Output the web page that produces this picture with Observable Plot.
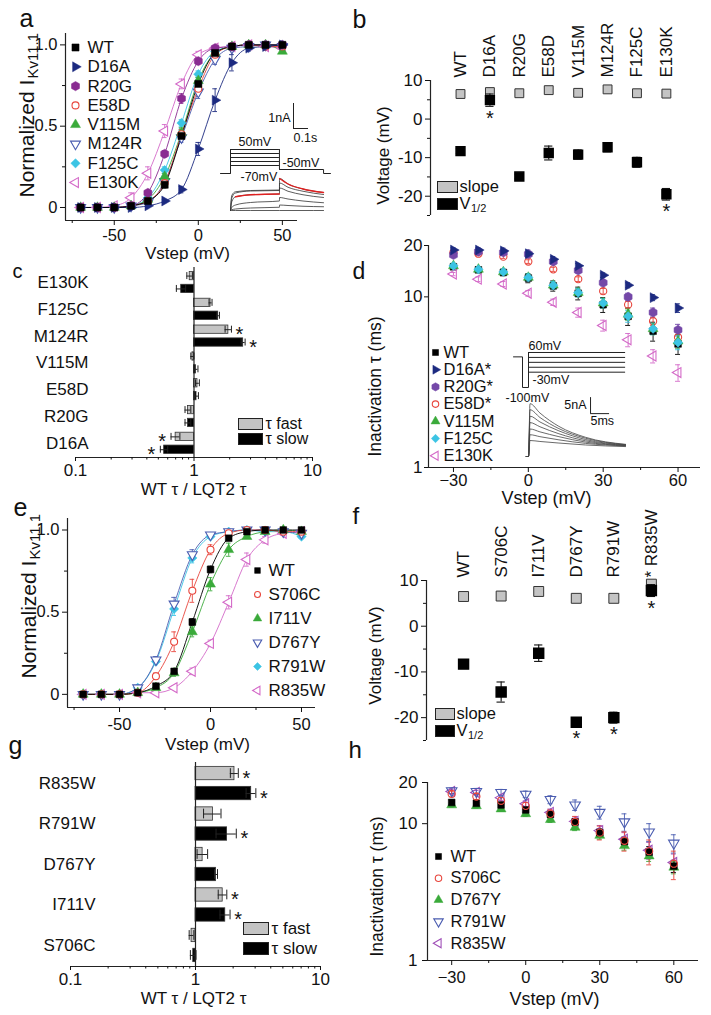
<!DOCTYPE html>
<html><head><meta charset="utf-8">
<script src="https://cdn.jsdelivr.net/npm/d3@7"></script>
<script src="https://cdn.jsdelivr.net/npm/@observablehq/plot@0.6"></script>
<style>
html,body{margin:0;padding:0;background:#fff}
#root{position:relative;width:711px;height:1015px;overflow:hidden;background:#fff}
</style></head><body><div id="root"></div>
<script>
// ================= DATA =================
// (a) activation curves
const vAct = [-70,-60,-50,-40,-30,-20,-10,0,10,20,30,40,50];
const aNames = ["WT","D16A","R20G","E58D","V115M","M124R","F125C","E130K"];
const actWT    = [0,0,0,0.01,0.04,0.14,0.44,0.76,0.95,0.99,1.00,1.00,1.00];
const actD16A  = [0,0,0,0,0.01,0.04,0.11,0.36,0.66,0.89,0.98,0.99,1.00];
const actR20G  = [0,0,0,0.01,0.09,0.33,0.67,0.90,0.98,0.99,1.00,1.00,1.00];
const actE58D  = [0,0,0,0.01,0.04,0.15,0.45,0.73,0.94,0.99,1.00,0.99,0.99];
const actV115M = [0,0,0,0.01,0.05,0.19,0.46,0.78,0.95,0.99,1.00,1.00,0.96];
const actM124R = [0,0,0,0.01,0.03,0.16,0.43,0.71,0.91,0.98,0.99,1.00,0.99];
const actF125C = [0,0,0,0.01,0.06,0.23,0.52,0.82,0.96,0.99,1.00,1.00,1.00];
const actE130K = [0,0,0.01,0.06,0.21,0.47,0.76,0.94,0.98,0.99,1.00,0.99,0.98];
const errWT    = [0,0,0,0,0.01,0.02,0.02,0.02,0.01,0.01,0,0,0];
const errD16A  = [0,0,0,0,0,0.01,0.02,0.04,0.07,0.05,0.02,0.01,0.01];
const errR20G  = [0,0,0,0,0.01,0.02,0.03,0.02,0.01,0.01,0,0,0];
const errE58D  = [0,0,0,0,0.01,0.02,0.03,0.03,0.02,0.01,0,0.01,0.01];
const errV115M = [0,0,0,0,0.01,0.02,0.03,0.02,0.01,0,0,0,0.01];
const errM124R = [0,0,0,0,0.01,0.02,0.03,0.04,0.03,0.01,0.01,0,0.01];
const errF125C = [0,0,0,0,0.01,0.02,0.02,0.02,0.01,0,0,0,0];
const errE130K = [0,0,0,0.03,0.04,0.04,0.03,0.02,0.01,0.01,0,0.01,0.01];
// (a) inset: protocol (s, mV) and current traces (s, nA)
const protoA_t = [0, 0.0667, 0.393, 0.687, 0.733];
const protoA_hold = -70, protoA_tail = -50;
const protoA_steps = [50, 30, 10, -10, -30];
const trA_t = [0.0667, 0.075, 0.1, 0.2, 0.393, 0.3935, 0.45, 0.55, 0.687];
const trA1 = [0, 0.60, 0.75, 0.80, 0.82, 1.28, 1.06, 0.86, 0.72];
const trA2 = [0, 0.50, 0.70, 0.78, 0.80, 1.10, 0.93, 0.77, 0.64];
const trA3 = [0, 0.35, 0.55, 0.63, 0.66, 0.90, 0.77, 0.63, 0.52];
const trA4 = [0, 0.12, 0.22, 0.32, 0.38, 0.52, 0.46, 0.38, 0.31];
const trA5 = [0, 0.03, 0.06, 0.10, 0.13, 0.22, 0.20, 0.17, 0.15];
const trA6 = [0, 0, 0, 0, 0, 0, 0, 0, 0];

// (b) Boltzmann parameters
const bNames = ["WT","D16A","R20G","E58D","V115M","M124R","F125C","E130K"];
const bSlope = [6.5, 7.0, 6.7, 7.5, 6.8, 7.7, 6.7, 6.6];
const bHalf = [-8.3, 4.9, -14.9, -8.8, -9.2, -7.3, -11.2, -19.5];
const bHalfErr = [0.6, 1.6, 0.6, 1.8, 1.2, 1.2, 1.3, 1.5];
const bSig = ["D16A","E130K"];

// (c) tau ratios
const cNames = ["E130K","F125C","M124R","V115M","E58D","R20G","D16A"];
const cFast = [0.92, 1.38, 1.95, 0.97, 1.07, 0.89, 0.70];
const cFastErr = [0.05, 0.04, 0.12, 0.03, 0.04, 0.05, 0.06];
const cSlow = [0.78, 1.60, 2.60, 1.04, 1.05, 0.89, 0.56];
const cSlowErr = [0.07, 0.04, 0.10, 0.04, 0.04, 0.05, 0.04];
const cSigFast = ["M124R","D16A"];
const cSigSlow = ["M124R","D16A"];

// (d) inactivation tau (ms)
const vIn = [-30,-20,-10,0,10,20,30,40,50,60];
const dNames = ["WT","D16A","R20G","E58D","V115M","F125C","E130K"];
const dSig = ["D16A","R20G","E58D"];
const inWT    = [15.0,14.4,13.9,12.9,11.6,10.5,9.0,7.7,6.3,5.3];
const inD16A  = [18.8,18.8,18.6,17.9,16.6,15.2,13.4,11.7,9.9,8.6];
const inR20G  = [17.6,18.4,18.2,17.8,16.1,14.3,12.1,10.0,8.1,6.4];
const inE58D  = [18.2,17.9,17.2,16.1,14.5,12.7,10.8,9.0,7.2,5.8];
const inV115M = [15.2,14.5,14.0,13.0,11.7,10.6,9.2,7.9,6.5,5.5];
const inF125C = [15.2,14.5,14.0,13.0,11.7,10.6,9.2,7.7,6.5,5.4];
const inE130K = [13.6,12.7,11.9,10.5,9.3,8.1,6.8,5.6,4.5,3.6];
const eInWT    = [0.5,0.5,0.6,0.8,0.8,0.9,0.9,0.9,0.8,0.7];
const eInD16A  = [0.6,0.6,0.7,0.9,0.6,0.5,0.4,0.4,0.4,0.5];
const eInR20G  = [0.5,0.5,0.5,0.5,0.5,0.5,0.5,0.5,0.5,0.5];
const eInE58D  = [0.4,0.4,0.4,0.4,0.4,0.4,0.4,0.4,0.4,0.4];
const eInV115M = [0.5,0.5,0.5,0.6,0.6,0.6,0.6,0.6,0.5,0.5];
const eInF125C = [0.5,0.5,0.5,0.6,0.6,0.6,0.6,0.6,0.5,0.5];
const eInE130K = [0.3,0.4,0.4,0.4,0.4,0.5,0.5,0.5,0.4,0.4];
// (d) inset: protocol (ms, mV) and traces (ms, nA)
const protoD_t = [0, 2.37, 3.95, 29.5];
const protoD_hold = 40, protoD_rec = -100;
const protoD_steps = [60, 37.5, 15, -7.5, -30];
const trD_t = [-0.6, 0, 0.4, 3, 8, 15, 25.5];
const trD1 = [0, 0, 16.5, 13.6, 9.4, 6.0, 3.8];
const trD2 = [0, 0, 14.6, 12.2, 8.7, 5.7, 3.7];
const trD3 = [0, 0, 12.6, 10.8, 8.0, 5.3, 3.6];
const trD4 = [0, 0, 10.6, 9.3, 7.1, 4.9, 3.5];
const trD5 = [0, 0, 8.6, 7.7, 6.2, 4.5, 3.4];
const trD6 = [0, 0, 6.8, 6.2, 5.2, 4.1, 3.3];
const trD7 = [0, 0, 5.0, 4.7, 4.2, 3.6, 3.1];

// (e) activation, second group
const eNames = ["WT","S706C","I711V","D767Y","R791W","R835W"];
const eWT    = [0,0,0,0.01,0.05,0.14,0.44,0.76,0.95,0.99,1.00,1.00,1.00];
const eS706C = [0,0,0,0.01,0.11,0.32,0.63,0.88,0.98,1.00,1.00,0.99,0.99];
const eI711V = [0,0,0,0.01,0.04,0.13,0.38,0.67,0.88,0.96,0.99,1.00,0.99];
const eD767Y = [0,0,0,0.04,0.21,0.55,0.85,0.97,0.99,1.00,1.00,0.99,0.98];
const eR791W = [0,0,0,0.04,0.20,0.52,0.83,0.96,0.99,1.00,0.99,0.99,0.96];
const eR835W = [0,0,0,0.01,0.01,0.04,0.14,0.31,0.56,0.82,0.94,0.98,0.99];
const eeWT    = [0,0,0,0,0.01,0.01,0.02,0.02,0.01,0,0,0,0];
const eeS706C = [0,0,0,0,0.02,0.06,0.07,0.03,0.01,0,0,0,0];
const eeI711V = [0,0,0,0,0.01,0.02,0.03,0.04,0.04,0.01,0,0,0];
const eeD767Y = [0,0,0,0.01,0.02,0.04,0.03,0.01,0,0,0,0,0];
const eeR791W = [0,0,0,0.01,0.02,0.04,0.03,0.01,0,0,0,0,0.01];
const eeR835W = [0,0,0,0,0,0.01,0.02,0.02,0.04,0.04,0.02,0.01,0.01];

// (f) Boltzmann parameters, second group
const fNames = ["WT","S706C","I711V","D767Y","R791W","R835W"];
const fSlope = [6.5, 6.6, 7.6, 6.1, 6.1, 9.2];
const fHalf = [-8.3, -14.4, -5.9, -21.0, -20.0, 7.8];
const fHalfErr = [0.6, 2.2, 1.8, 1.0, 1.2, 1.3];
const fSigHalf = ["D767Y","R791W","R835W"];
const fSigSlope = ["R835W"];

// (g) tau ratios, second group
const gNames = ["R835W","R791W","D767Y","I711V","S706C"];
const gFast = [2.05, 1.38, 1.14, 1.65, 0.93];
const gFastErr = [0.15, 0.22, 0.11, 0.13, 0.04];
const gSlow = [2.79, 1.79, 1.46, 1.73, 0.96];
const gSlowErr = [0.25, 0.33, 0.04, 0.16, 0.05];
const gSigFast = ["R835W","I711V"];
const gSigSlow = ["R835W","R791W","I711V"];

// (h) inactivation tau, second group
const hNames = ["WT","S706C","D767Y","R791W","R835W"];
const hWT    = [14.3,14.1,13.7,12.6,11.7,10.3,8.6,7.4,6.2,4.9];
const hS706C = [16.5,15.8,14.7,13.5,11.8,10.3,8.6,7.5,6.3,5.1];
const hD767Y = [13.7,13.5,12.8,11.8,10.7,9.4,8.2,6.9,5.8,4.8];
const hR791W = [17.4,17.2,16.9,16.4,15.0,13.7,12.1,10.3,8.7,7.2];
const hR835W = [17.2,16.9,15.5,14.0,12.1,10.4,8.9,7.7,6.4,5.2];
const ehWT    = [0.6,0.6,0.6,0.6,0.6,0.6,0.6,0.6,0.6,0.5];
const ehS706C = [0.8,0.8,0.8,0.8,0.9,1.0,1.0,1.2,1.3,1.2];
const ehD767Y = [0.5,0.5,0.5,0.5,0.5,0.5,0.5,0.5,0.5,0.5];
const ehR791W = [0.8,0.9,0.9,0.9,1.0,1.2,1.3,1.5,1.3,1.1];
const ehR835W = [0.6,0.6,0.7,0.7,0.7,0.8,0.8,0.9,0.9,0.8];

// ================= HELPERS =================
const F = '"Liberation Sans", Arial, Helvetica, sans-serif';
const INK = "#111";
const root = document.getElementById("root");
function mk(box, scales, marks) {
  const svg = Plot.plot({
    width: box.w, height: box.h,
    marginLeft: box.ml || 0, marginRight: box.mr || 0, marginTop: box.mt || 0, marginBottom: box.mb || 0,
    style: {background: "transparent", overflow: "visible", fontFamily: F, fontSize: "16px", color: INK},
    ...scales, marks
  });
  Object.assign(svg.style, {position: "absolute", left: box.x + "px", top: box.y + "px"});
  root.appendChild(svg);
}
function at(box, px, py) { return {frameAnchor: "top-left", dx: px - box.x - (box.ml || 0), dy: py - box.y - (box.mt || 0)}; }
function txt(box, s, px, py, o = {}) {
  return Plot.text([s], {...at(box, px, py), text: d => d, textAnchor: "start", lineAnchor: "middle", fontSize: 17, fill: INK, ...o});
}
function sw(box, x0, y0, x1, y1, fill) {
  const L = box.x + (box.ml || 0), R = box.x + box.w - (box.mr || 0), T = box.y + (box.mt || 0), B = box.y + box.h - (box.mb || 0);
  return Plot.frame({fill, stroke: "#222", strokeWidth: 1, insetLeft: x0 - L, insetRight: R - x1, insetTop: y0 - T, insetBottom: B - y1});
}
function sym(s, openFill = "#fff", scale = 1) {
  const o = {symbol: s.symbol, r: s.r * scale, fill: s.open ? openFill : s.color, stroke: s.color, strokeWidth: s.open ? 1.1 : 0.5};
  if (s.rot) o.rotate = s.rot;
  return o;
}
function errV(r0, color, cap) {
  const r = r0.filter(d => d.e > 0);
  const o = {stroke: color, strokeWidth: 0.9};
  return [
    Plot.ruleX(r, {x: "v", y1: d => d.y - d.e, y2: d => d.y + d.e, ...o}),
    Plot.ruleY(r, {y: d => d.y + d.e, x1: d => d.v - cap, x2: d => d.v + cap, ...o}),
    Plot.ruleY(r, {y: d => d.y - d.e, x1: d => d.v - cap, x2: d => d.v + cap, ...o})
  ];
}
const rows = (xs, ys, es) => xs.map((v, i) => ({v, y: ys[i], e: es ? es[i] : 0}));
const hy = d => String(d);
const mn = d => String(d).replace("-", "\u2212");
const blank = () => "";
const AX = {stroke: "#222", strokeWidth: 1.2};

// ================= PANEL a =================
const aTable = {WT: [actWT, errWT], D16A: [actD16A, errD16A], R20G: [actR20G, errR20G], E58D: [actE58D, errE58D],
  V115M: [actV115M, errV115M], M124R: [actM124R, errM124R], F125C: [actF125C, errF125C], E130K: [actE130K, errE130K]};
const aSty = {
  WT: {color: "#000000", symbol: "square", r: 4},
  D16A: {color: "#1c2a80", symbol: "triangle", r: 3.7, rot: 90},
  R20G: {color: "#8a2c92", symbol: "hexagon", r: 4},
  E58D: {color: "#e8453c", symbol: "circle", r: 3.5, open: true},
  V115M: {color: "#3aaa3a", symbol: "triangle", r: 3.7},
  M124R: {color: "#4a5cb0", symbol: "triangle", r: 3.7, rot: 180, open: true},
  F125C: {color: "#3cc4e4", symbol: "diamond2", r: 4.2},
  E130K: {color: "#d46ac8", symbol: "triangle", r: 3.7, rot: 270, open: true}
};
function activationPanel(box, names, table, sty, xdom, o) {
  const order = [...names].reverse();
  const marks = [
    Plot.ruleX([xdom[0]], AX),
    Plot.ruleY([-0.08], AX),
    Plot.axisY({ticks: [0, 0.5, 1], tickFormat: d => d === 0 ? "0" : d.toFixed(1), tickSize: 5, tickPadding: 3, fontSize: 16.5, label: null}),
    Plot.axisY({ticks: [0.25, 0.75], tickSize: 3, tickFormat: blank, label: null}),
    Plot.axisX({ticks: [-50, 0, 50], tickFormat: hy, tickSize: 5, tickPadding: o.xpad, fontSize: 16.5, label: null}),
    Plot.axisX({ticks: [-75, -25, 25], tickSize: 3, tickFormat: blank, label: null})
  ];
  for (const n of order) marks.push(Plot.line(rows(vAct, table[n][0]), {x: "v", y: "y", curve: "monotone-x", stroke: sty[n].color, strokeWidth: 0.9}));
  for (const n of order) marks.push(...errV(rows(vAct, table[n][0], table[n][1]), sty[n].color, o.cap));
  for (const n of order) marks.push(Plot.dot(rows(vAct, table[n][0]), {x: "v", y: "y", ...sym(sty[n])}));
  names.forEach((n, i) => {
    const py = o.legY + o.legDy * i;
    marks.push(Plot.dot([n], {...at(box, o.legMx, py), ...sym(sty[n], "#fff", o.legScale)}));
    marks.push(txt(box, n, o.legTx, py));
  });
  marks.push(txt(box, "Normalized I", o.ylx, o.yly, {rotate: -90, lineAnchor: "bottom", fontSize: 21}));
  marks.push(txt(box, "Kv11.1", o.ylx + 4, o.yly - 119, {rotate: -90, lineAnchor: "bottom", fontSize: 15}));
  marks.push(txt(box, "Vstep (mV)", o.xlx, o.xly, {textAnchor: "middle", lineAnchor: "bottom"}));
  marks.push(txt(box, o.letter[0], o.letter[1], o.letter[2], {lineAnchor: "bottom", fontSize: o.letter[3]}));
  mk(box, {x: {domain: xdom}, y: {domain: [-0.08, 1.07]}}, marks);
}
activationPanel({x: 0, y: 0, w: 355, h: 255, ml: 65, mr: 58, mt: 33, mb: 35}, aNames, aTable, aSty, [-79, 59],
  {xpad: 4, cap: 1.4, legY: 47, legDy: 19.3, legMx: 75, legTx: 87, legScale: 1, ylx: 33, yly: 197, xlx: 187, xly: 258, letter: ["a", 19, 26, 25]});

// inset a: protocol
{
  const box = {x: 220, y: 140, w: 110, h: 40};
  const [t0, t1, t2, t3, t4] = protoA_t;
  const top = d3.max(protoA_steps);
  const L = {stroke: "#222", strokeWidth: 1};
  const marks = [
    Plot.line([[t0, protoA_hold], [t1, protoA_hold]], {x: d => d[0], y: d => d[1], ...L}),
    Plot.ruleX([t1], {y1: protoA_hold, y2: top, ...L}),
    Plot.ruleY(protoA_steps, {y: d => d, x1: t1, x2: t2, ...L}),
    Plot.ruleX([t2], {y1: protoA_tail, y2: top, ...L}),
    Plot.line([[t2, protoA_tail], [t3, protoA_tail], [t3, protoA_hold], [t4, protoA_hold]], {x: d => d[0], y: d => d[1], ...L}),
    txt(box, "50mV", 238, 145, {lineAnchor: "bottom", fontSize: 12.5}),
    txt(box, "-50mV", 282, 166, {lineAnchor: "bottom", fontSize: 12.5}),
    txt(box, "-70mV", 240, 180, {lineAnchor: "bottom", fontSize: 12.5})
  ];
  mk(box, {x: {domain: [0, 0.7333], axis: null}, y: {domain: [-105, 95], axis: null}}, marks);
}
// inset a: traces
{
  const box = {x: 220, y: 100, w: 110, h: 115};
  const T = {x: "v", y: "y", curve: "monotone-x", stroke: "#333", strokeWidth: 0.8};
  const marks = [trA6, trA5, trA4, trA3, trA2, trA1].map(tr => Plot.line(rows(trA_t, tr), T));
  marks.push(Plot.line(rows(trA_t.slice(2, 5), trA3.slice(2, 5)), {...T, stroke: "#e02020", strokeWidth: 1.3}));
  marks.push(Plot.line(rows(trA_t.slice(5), trA1.slice(5)), {...T, stroke: "#e02020", strokeWidth: 1.3}));
  const sbT = 0.4867, sbI = 3.28;
  marks.push(Plot.ruleX([sbT], {y1: sbI, y2: sbI + 1, stroke: "#222"}));
  marks.push(Plot.ruleY([sbI], {x1: sbT, x2: sbT + 0.1, stroke: "#222"}));
  marks.push(txt(box, "1nA", 290, 117, {textAnchor: "end", fontSize: 12.5}));
  marks.push(txt(box, "0.1s", 293, 137, {fontSize: 12.5}));
  mk(box, {x: {domain: [0, 0.7333], axis: null}, y: {domain: [-0.2, 4.4], axis: null}}, marks);
}

// ================= PANELS b & f =================
function paramPanel(box, names, slope, half, halfErr, sigHalf, labels, xdom, o) {
  const H = names.map((n, i) => ({n, i, y: half[i], e: halfErr[i]}));
  const cap = o.cap;
  const eb = {stroke: "#111", strokeWidth: 1.1};
  const marks = [
    Plot.ruleX([xdom[0]], AX),
    Plot.axisY({ticks: [10, 0, -10, -20], tickFormat: hy, tickSize: 5, tickPadding: 3, fontSize: 17, label: null}),
    Plot.axisY({ticks: [5, -5, -15, -25], tickSize: 3, tickFormat: blank, label: null}),
    Plot.text(labels, {x: (d, i) => i, frameAnchor: "top", rotate: -90, textAnchor: "start", lineAnchor: "middle", dy: -3, fontSize: 17, fill: INK}),
    Plot.dot(slope, {x: (d, i) => i, y: d => d, symbol: "square", r: o.r, fill: "#c4c4c4", stroke: "#333", strokeWidth: 1}),
    Plot.ruleX(H, {x: "i", y1: d => d.y - d.e, y2: d => d.y + d.e, ...eb}),
    Plot.ruleY(H, {y: d => d.y + d.e, x1: d => d.i - cap, x2: d => d.i + cap, ...eb}),
    Plot.ruleY(H, {y: d => d.y - d.e, x1: d => d.i - cap, x2: d => d.i + cap, ...eb}),
    Plot.dot(H, {x: "i", y: "y", symbol: "square", r: o.r, fill: "#000", stroke: "#000"}),
    Plot.text(H.filter(d => sigHalf.includes(d.n)), {x: "i", y: d => d.y - d.e, text: () => "*", lineAnchor: "top", dy: 4, fontSize: 20, fill: INK}),
    sw(box, o.sx, o.sy, o.sx + o.sw, o.sy + 11, "#c4c4c4"),
    txt(box, "slope", o.sx + o.sw + 2, o.sy + 5.5, {fontSize: 16.5}),
    sw(box, o.sx, o.sy + o.sdy, o.sx + o.sw, o.sy + o.sdy + 11, "#000"),
    txt(box, "V", o.sx + o.sw + 2, o.sy + o.sdy + 5, {fontSize: 16.5}),
    txt(box, "1/2", o.sx + o.sw + 13.5, o.sy + o.sdy + 10, {fontSize: 11}),
    txt(box, "Voltage (mV)", o.ylx, o.yly, {rotate: -90, textAnchor: "middle"}),
    txt(box, o.letter[0], o.letter[1], o.letter[2], {lineAnchor: "bottom", fontSize: o.letter[3]})
  ];
  mk(box, {x: {domain: xdom, axis: null}, y: {domain: [-25, 10]}}, marks);
}
paramPanel({x: 355, y: 0, w: 356, h: 235, ml: 75, mr: 11, mt: 80, mb: 20}, bNames, bSlope, bHalf, bHalfErr, bSig, bNames, [-1.02, 8.16],
  {cap: 0.14, r: 5, sx: 437, sy: 181, sw: 20, sdy: 17, ylx: 383, yly: 155, letter: ["b", 352, 27, 25]});
paramPanel({x: 355, y: 495, w: 356, h: 255, ml: 71, mr: 11, mt: 85, mb: 10}, fNames, fSlope, fHalf, fHalfErr, fSigHalf,
  fNames.map(n => fSigSlope.includes(n) ? "* " + n : n), [-0.987, 6.307],
  {cap: 0.11, r: 5.6, sx: 435, sy: 708, sw: 19, sdy: 17, ylx: 375, yly: 655, letter: ["f", 352, 523, 24]});

// ================= PANELS c & g =================
function ratioPanel(box, names, fast, fastE, slow, slowE, sigF, sigS, ydom, o) {
  const R = names.map((n, i) => ({n, i, f: fast[i], fe: fastE[i], s: slow[i], se: slowE[i]}));
  const {off, hh, cap} = o;
  const bar = (k, dy, fill) => Plot.rect(R, {x1: () => 1, x2: d => d[k], y1: d => d.i + dy - hh, y2: d => d.i + dy + hh, fill, stroke: "#333", strokeWidth: 0.8});
  const es = {stroke: "#222", strokeWidth: 1};
  const err = (k, ek, dy) => [
    Plot.ruleY(R, {y: d => d.i + dy, x1: d => d[k] - d[ek], x2: d => d[k] + d[ek], ...es}),
    Plot.ruleX(R, {x: d => d[k] - d[ek], y1: d => d.i + dy - cap, y2: d => d.i + dy + cap, ...es}),
    Plot.ruleX(R, {x: d => d[k] + d[ek], y1: d => d.i + dy - cap, y2: d => d.i + dy + cap, ...es})
  ];
  const star = (k, ek, dy, sig) => {
    const S = R.filter(d => sig.includes(d.n));
    const st = {text: () => "*", dy: 5, fontSize: 20, fill: INK, textAnchor: "middle"};
    return [
      Plot.text(S.filter(d => d[k] >= 1), {x: d => d[k] + d[ek], y: d => d.i + dy, dx: 8, ...st}),
      Plot.text(S.filter(d => d[k] < 1), {x: d => d[k] - d[ek], y: d => d.i + dy, dx: -9, ...st})
    ];
  };
  const marks = [
    Plot.ruleY([ydom[0]], AX),
    Plot.axisX({ticks: [0.1, 1, 10], tickFormat: d => d < 1 ? "0.1" : String(d), tickSize: 4, tickPadding: o.xpad, fontSize: 17, label: null}),
    Plot.axisX({ticks: [0.2,0.3,0.4,0.5,0.6,0.7,0.8,0.9,2,3,4,5,6,7,8,9], tickSize: 2.5, tickFormat: blank, label: null}),
    bar("f", -off, "#c4c4c4"), bar("s", off, "#000"),
    ...err("f", "fe", -off), ...err("s", "se", off),
    Plot.ruleX([1], AX),
    ...star("f", "fe", -off, sigF), ...star("s", "se", off, sigS),
    Plot.text(names, {y: (d, i) => i, frameAnchor: "left", textAnchor: "end", lineAnchor: "middle", dx: o.labDx, fontSize: 17, fill: INK}),
    sw(box, o.lx, o.ly, o.lx + o.lw, o.ly + o.lh, "#c4c4c4"),
    txt(box, "τ fast", o.lx + o.lw + 3, o.ly + o.lh / 2, {fontSize: o.lfs}),
    sw(box, o.lx, o.ly + o.ldy, o.lx + o.lw, o.ly + o.ldy + o.lh, "#000"),
    txt(box, "τ slow", o.lx + o.lw + 3, o.ly + o.ldy + o.lh / 2, {fontSize: o.lfs}),
    txt(box, "WT τ / LQT2 τ", 193, o.xly, {textAnchor: "middle", lineAnchor: "bottom"}),
    txt(box, o.letter[0], o.letter[1], o.letter[2], {lineAnchor: "bottom", fontSize: o.letter[3]})
  ];
  mk(box, {x: {type: "log", domain: [0.1, 10]}, y: {domain: ydom, axis: null}}, marks);
}
ratioPanel({x: 0, y: 255, w: 355, h: 245, ml: 75, mr: 43, mt: 12, mb: 43}, cNames, cFast, cFastErr, cSlow, cSlowErr, cSigFast, cSigSlow, [6.53, -0.56],
  {off: 0.24, hh: 0.155, cap: 0.13, xpad: 2, labDx: 13, lx: 238, ly: 418, lw: 24, lh: 11, ldy: 15, lfs: 16, xly: 494, letter: ["c", 12, 277, 20]});
ratioPanel({x: 0, y: 750, w: 355, h: 265, ml: 70, mr: 35, mt: 12, mb: 49}, gNames, gFast, gFastErr, gSlow, gSlowErr, gSigFast, gSigSlow, [4.52, -0.52],
  {off: 0.247, hh: 0.165, cap: 0.12, xpad: 2, labDx: 25, lx: 243, ly: 922, lw: 25, lh: 12, ldy: 20, lfs: 17, xly: 1003, letter: ["g", 8, 753, 25]});

// ================= PANELS d & h =================
function inactPanel(box, xdom, names, table, sty, drawOrder, legendLabels, o) {
  const marks = [
    Plot.ruleX([xdom[0]], AX),
    Plot.ruleY([1], AX),
    Plot.axisY({ticks: [1, 10, 20], tickFormat: d => String(d), tickSize: o.ytick, tickPadding: o.ypad, fontSize: 17, label: null}),
    Plot.axisX({ticks: [-30, 0, 30, 60], tickFormat: mn, tickSize: 5, tickPadding: o.xpad, fontSize: 16.5, label: null}),
    Plot.axisX({ticks: [-15, 15, 45], tickSize: 3, tickFormat: blank, label: null})
  ];
  for (const n of drawOrder) marks.push(...errV(rows(vIn, table[n][0], table[n][1]), sty[n].color, 1.0));
  for (const n of drawOrder) marks.push(Plot.dot(rows(vIn, table[n][0]), {x: "v", y: "y", ...sym(sty[n], "none")}));
  names.forEach((n, i) => {
    const py = o.legY + o.legDy * i;
    marks.push(Plot.dot([n], {...at(box, o.legMx, py), ...sym(sty[n], "none", 0.9)}));
    marks.push(txt(box, legendLabels[i], o.legTx, py, {fontSize: 16.5}));
  });
  marks.push(txt(box, "Inactivation τ (ms)", o.ylx, o.yly, {rotate: -90, textAnchor: "middle", fontSize: 17.5}));
  marks.push(txt(box, "Vstep (mV)", o.xlx, o.xly, {textAnchor: "middle", lineAnchor: "bottom", fontSize: 18}));
  marks.push(txt(box, o.letter[0], o.letter[1], o.letter[2], {lineAnchor: "bottom", fontSize: o.letter[3]}));
  mk(box, {x: {domain: xdom}, y: {type: "log", domain: [1, 20]}}, marks);
}
const dTable = {WT: [inWT, eInWT], D16A: [inD16A, eInD16A], R20G: [inR20G, eInR20G], E58D: [inE58D, eInE58D],
  V115M: [inV115M, eInV115M], F125C: [inF125C, eInF125C], E130K: [inE130K, eInE130K]};
const dSty = {
  WT: {color: "#000000", symbol: "square", r: 3.8},
  D16A: {color: "#1c2a80", symbol: "triangle", r: 3.7, rot: 90},
  R20G: {color: "#7448a8", symbol: "hexagon", r: 4},
  E58D: {color: "#e8453c", symbol: "circle", r: 3.6, open: true},
  V115M: {color: "#3aaa3a", symbol: "triangle", r: 3.7},
  F125C: {color: "#3cc4e4", symbol: "diamond2", r: 4.2},
  E130K: {color: "#d46ac8", symbol: "triangle", r: 3.7, rot: 270, open: true}
};
inactPanel({x: 355, y: 235, w: 356, h: 275, ml: 73, mr: 11, mt: 10, mb: 43}, [-40, 69], dNames, dTable, dSty,
  ["WT", "E130K", "E58D", "R20G", "D16A", "V115M", "F125C"], dNames.map(n => dSig.includes(n) ? n + "*" : n),
  {ytick: 4, ypad: 2, xpad: 2, legY: 352, legDy: 17.2, legMx: 435, legTx: 443, ylx: 375, yly: 386, xlx: 546, xly: 503, letter: ["d", 352, 278, 23]});

// inset d: protocol
{
  const box = {x: 510, y: 345, w: 120, h: 47};
  const [t0, t1, t2, t3] = protoD_t;
  const L = {stroke: "#222", strokeWidth: 1};
  const marks = [
    Plot.line([[t0, protoD_hold], [t1, protoD_hold], [t1, protoD_rec], [t2, protoD_rec], [t2, d3.max(protoD_steps)]], {x: d => d[0], y: d => d[1], ...L}),
    Plot.ruleY(protoD_steps, {y: d => d, x1: t2, x2: t3, ...L}),
    txt(box, "60mV", 528, 349, {lineAnchor: "bottom", fontSize: 12.5}),
    txt(box, "-30mV", 532, 383, {lineAnchor: "bottom", fontSize: 12.5}),
    txt(box, "-100mV", 505, 401, {lineAnchor: "bottom", fontSize: 12.5})
  ];
  mk(box, {x: {domain: [-0.79, 30.79], axis: null}, y: {domain: [-122.9, 92], axis: null}}, marks);
}
// inset d: traces
{
  const box = {x: 520, y: 395, w: 110, h: 65};
  const T = {x: "v", y: "y", curve: "monotone-x", stroke: "#444", strokeWidth: 0.8};
  const marks = [trD7, trD6, trD5, trD4, trD3, trD2, trD1].map(tr => Plot.line(rows(trD_t, tr), T));
  const sbT = 16.3, sbI = 13.4;
  marks.push(Plot.ruleX([sbT], {y1: sbI, y2: sbI + 5, stroke: "#222"}));
  marks.push(Plot.ruleY([sbI], {x1: sbT, x2: sbT + 5, stroke: "#222"}));
  marks.push(txt(box, "5nA", 586, 404, {textAnchor: "end", fontSize: 12.5}));
  marks.push(txt(box, "5ms", 590, 424, {lineAnchor: "bottom", fontSize: 12.5}));
  mk(box, {x: {domain: [-2.1, 26.8], axis: null}, y: {domain: [-1.25, 19.06], axis: null}}, marks);
}

// ================= PANEL e =================
const eTable = {WT: [eWT, eeWT], S706C: [eS706C, eeS706C], I711V: [eI711V, eeI711V], D767Y: [eD767Y, eeD767Y], R791W: [eR791W, eeR791W], R835W: [eR835W, eeR835W]};
const eSty = {
  WT: {color: "#000000", symbol: "square", r: 3.8},
  S706C: {color: "#e8453c", symbol: "circle", r: 3.5, open: true},
  I711V: {color: "#3aaa3a", symbol: "triangle", r: 3.7},
  D767Y: {color: "#4a5cb0", symbol: "triangle", r: 3.7, rot: 180, open: true},
  R791W: {color: "#3cc4e4", symbol: "diamond2", r: 4.2},
  R835W: {color: "#d46ac8", symbol: "triangle", r: 3.7, rot: 270, open: true}
};
activationPanel({x: 0, y: 495, w: 355, h: 255, ml: 67, mr: 40, mt: 23, mb: 43}, eNames, eTable, eSty, [-78.6, 57.7],
  {xpad: 6, cap: 1.3, legY: 570, legDy: 24, legMx: 257, legTx: 268, legScale: 0.85, ylx: 35, yly: 678, xlx: 207, xly: 749, letter: ["e", 13, 515, 25]});

// ================= PANEL h =================
const hTable = {WT: [hWT, ehWT], S706C: [hS706C, ehS706C], D767Y: [hD767Y, ehD767Y], R791W: [hR791W, ehR791W], R835W: [hR835W, ehR835W]};
const hSty = {
  WT: {color: "#000000", symbol: "square", r: 3.8},
  S706C: {color: "#e8453c", symbol: "circle", r: 3.6, open: true},
  D767Y: {color: "#3aaa3a", symbol: "triangle", r: 3.7},
  R791W: {color: "#4a5cb0", symbol: "triangle", r: 3.9, rot: 180, open: true},
  R835W: {color: "#a050b8", symbol: "triangle", r: 3.7, rot: 270, open: true}
};
inactPanel({x: 355, y: 750, w: 356, h: 265, ml: 72, mr: 13, mt: 32, mb: 55}, [-39.8, 70], hNames, hTable, hSty,
  ["R835W", "R791W", "D767Y", "WT", "S706C"], hNames,
  {ytick: 5, ypad: 5, xpad: 6, legY: 856, legDy: 21.7, legMx: 438, legTx: 450, ylx: 377, yly: 886, xlx: 554, xly: 1004, letter: ["h", 348, 757, 24]});
</script></body></html>
